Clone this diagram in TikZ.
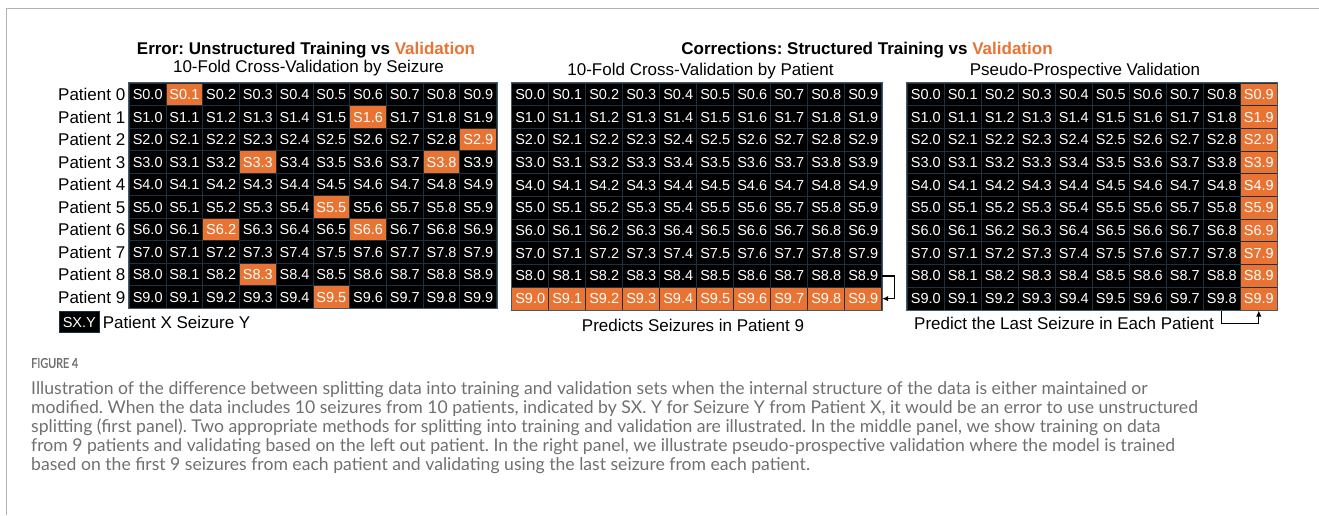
\documentclass[tikz,border=0pt]{standalone}
\usepackage{fontspec}
\setmainfont{Liberation Sans}
\newfontfamily\capfont{Lato}
\newfontfamily\figfont[FakeStretch=0.8, FakeBold=1.2]{Lato}
\usetikzlibrary{arrows.meta}
\definecolor{valorange}{RGB}{233,115,50}
\definecolor{cellline}{RGB}{30,48,62}
\definecolor{gridedge}{RGB}{70,88,102}
\definecolor{framegray}{RGB}{178,178,178}
\definecolor{captext}{RGB}{112,112,112}
\frenchspacing

% validation cells of the seizure-wise split
\foreach \r/\c in {0/1,1/6,2/9,3/3,3/8,5/5,6/2,6/6,8/3,9/5} {
  \expandafter\gdef\csname hl-\r-\c\endcsname{1}
}

\begin{document}
\begin{tikzpicture}[x=1pt,y=-1pt,
  cellbox/.style={draw=cellline, line width=1pt, fill=black, text=white,
    inner sep=0pt, font=\fontsize{14.5}{16}\selectfont},
  label17/.style={inner sep=0pt, font=\fontsize{17}{20}\selectfont},
  title17/.style={inner sep=0pt, font=\bfseries\fontsize{17}{20}\selectfont},
  loop arrow/.style={line width=1.2pt, -{Latex[length=6pt,width=5.5pt]}},
]
\useasboundingbox (0,0) rectangle (1319,515);

% page frame
\draw[framegray, line width=1.5pt] (6.5,515) -- (6.5,8.5) -- (1319,8.5);

% titles
\node[title17] (t1) at (306,50) {Error: Unstructured Training vs \textcolor{valorange}{Validation}};
\node[label17] (s1) at (308.5,68.5) {10-Fold Cross-Validation by Seizure};
\node[title17] (t2) at (867,50) {Corrections: Structured Training vs \textcolor{valorange}{Validation}};
\node[label17] (s2) at (700.5,71.5) {10-Fold Cross-Validation by Patient};
\node[label17] (s3) at (1085,71.5) {Pseudo-Prospective Validation};

% left grid: cross-validation by seizure
\foreach \r in {0,...,9} {
  \pgfmathsetmacro\yy{83.3+22.5*(\r+0.5)}
  \node[label17, anchor=east] (p\r) at (125.5,\yy) {Patient \r};
  \foreach \c in {0,...,9} {
    \pgfmathsetmacro\xx{129.3+36.74*(\c+0.5)}
    \ifcsname hl-\r-\c\endcsname \def\cellcol{valorange}\else \def\cellcol{black}\fi
    \node[cellbox, fill=\cellcol, minimum width=36.74pt, minimum height=22.5pt] (L-\r-\c) at (\xx,\yy) {S\r.\c};
  }
}
\draw[gridedge, line width=0.8pt] (L-0-0.north west) rectangle (L-9-9.south east);

% middle grid: cross-validation by patient
\foreach \r in {0,...,9} {
  \pgfmathsetmacro\yy{83.3+22.67*(\r+0.5)}
  \foreach \c in {0,...,9} {
    \pgfmathsetmacro\xx{511.7+37*(\c+0.5)}
    \ifnum\r=9 \def\cellcol{valorange}\else \def\cellcol{black}\fi
    \node[cellbox, fill=\cellcol, minimum width=37pt, minimum height=22.67pt] (M-\r-\c) at (\xx,\yy) {S\r.\c};
  }
}
\draw[gridedge, line width=0.8pt] (M-0-0.north west) rectangle (M-9-9.south east);

% right grid: pseudo-prospective validation
\foreach \r in {0,...,9} {
  \pgfmathsetmacro\yy{83.3+22.67*(\r+0.5)}
  \foreach \c in {0,...,9} {
    \pgfmathsetmacro\xx{907.3+37*(\c+0.5)}
    \ifnum\c=9 \def\cellcol{valorange}\else \def\cellcol{black}\fi
    \node[cellbox, fill=\cellcol, minimum width=37pt, minimum height=22.67pt] (R-\r-\c) at (\xx,\yy) {S\r.\c};
  }
}
\draw[gridedge, line width=0.8pt] (R-0-0.north west) rectangle (R-9-9.south east);

% legend
\node[cellbox, minimum width=40pt, minimum height=20.6pt] (key) at (79.3,322) {SX.Y};
\node[label17, anchor=west] (keytext) at (102.7,322) {Patient X Seizure Y};

% bottom labels and loop arrows
\node[label17] (b2) at (693,325.5) {Predicts Seizures in Patient 9};
\node[label17] (b3) at (1064,323.5) {Predict the Last Seizure in Each Patient};
\draw[loop arrow] (M-8-9.east) -- ++(12.5,0) |- (M-9-9.east);
\draw[loop arrow] (R-9-8.south) -- ++(0,13) -| (R-9-9.south);

% caption
\node[anchor=west, inner sep=0pt, text=captext, font=\figfont\fontsize{13.5}{15}\selectfont] (fig) at (31,363) {FIGURE 4};
\node[anchor=north west, inner sep=0pt, align=left, text=captext,
  font=\capfont\fontsize{17.6}{19.1}\selectfont] (cap) at (31,381)
{Illustration of the difference between splitting data into training and validation sets when the internal structure of the data is either maintained or\\
modified. When the data includes 10 seizures from 10 patients, indicated by SX. Y for Seizure Y from Patient X, it would be an error to use unstructured\\
splitting (first panel). Two appropriate methods for splitting into training and validation are illustrated. In the middle panel, we show training on data\\
from 9 patients and validating based on the left out patient. In the right panel, we illustrate pseudo-prospective validation where the model is trained\\
based on the first 9 seizures from each patient and validating using the last seizure from each patient.};
\end{tikzpicture}
\end{document}
